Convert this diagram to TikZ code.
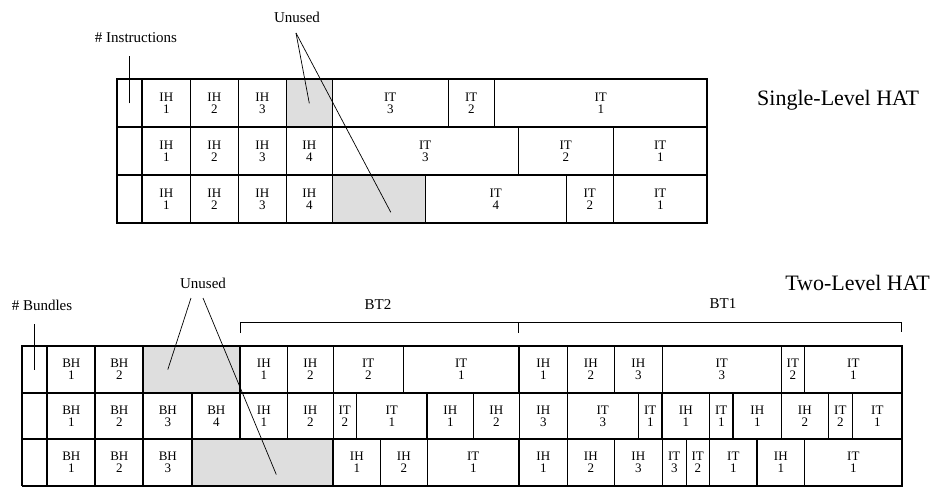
\documentclass[tikz,border=0pt]{standalone}
\usepackage{fontspec}
\setmainfont{Liberation Serif}
\usetikzlibrary{positioning}

\begin{document}
\begin{tikzpicture}[x=1pt, y=-1pt,
  cell/.style={draw=black, line width=0.6pt, anchor=north west, inner sep=0pt, align=center, font=\fontsize{13}{12}\selectfont},
  unused/.style={cell, fill=black!13},
  rowline/.style={line width=1.7pt},
  thin/.style={line width=0.7pt},
  lbl/.style={font=\fontsize{15}{15}\selectfont, inner sep=0pt},
  title/.style={font=\fontsize{22}{22}\selectfont, inner sep=0pt}
]
\useasboundingbox (0,0) rectangle (938,487);

% single-level HAT
\node[cell, minimum width=25pt, minimum height=48pt] (sn1) at (117,79) {};
\node[cell, minimum width=25pt, minimum height=48pt] (sn2) at (117,127) {};
\node[cell, minimum width=25pt, minimum height=48pt] (sn3) at (117,175) {};
\foreach \xa/\xb/\t/\n [count=\i] in {142/190/IH/1, 190/238/IH/2, 238/286/IH/3, 332/448/IT/3, 448/494/IT/2, 494/707/IT/1}{
  \pgfmathsetmacro\w{\xb-\xa}
  \node[cell, minimum width=\w pt, minimum height=48pt] (sa-\i) at (\xa,79) {\t\\\n};
}
\node[unused, minimum width=46pt, minimum height=48pt] (sa-u) at (286,79) {};
\foreach \xa/\xb/\t/\n [count=\i] in {142/190/IH/1, 190/238/IH/2, 238/286/IH/3, 286/332/IH/4, 332/518/IT/3, 518/613/IT/2, 613/707/IT/1}{
  \pgfmathsetmacro\w{\xb-\xa}
  \node[cell, minimum width=\w pt, minimum height=48pt] (sb-\i) at (\xa,127) {\t\\\n};
}
\foreach \xa/\xb/\t/\n [count=\i] in {142/190/IH/1, 190/238/IH/2, 238/286/IH/3, 286/332/IH/4, 425/566/IT/4, 566/613/IT/2, 613/707/IT/1}{
  \pgfmathsetmacro\w{\xb-\xa}
  \node[cell, minimum width=\w pt, minimum height=48pt] (sc-\i) at (\xa,175) {\t\\\n};
}
\node[unused, minimum width=93pt, minimum height=48pt] (sc-u) at (332,175) {};
\draw[rowline] (117,79) rectangle (707,223);
\draw[rowline] (117,127) -- (707,127);
\draw[rowline] (117,175) -- (707,175);
\draw[rowline] (142,79) -- (142,223);

\node[lbl] (instr) at (136,38) {\# Instructions};
\draw[thin] (sn1.center) -- ++(0,-47);
\node[lbl] (unA) at (297,17) {Unused};
\coordinate (unA-tip) at (296,33);
\draw[thin] (unA-tip) -- (sa-u.center);
\draw[thin] (unA-tip) -- ([shift={(12,13)}]sc-u.center);
\node[title, anchor=west] (single) at (757,100) {Single-Level HAT};

% two-level HAT
\node[cell, minimum width=25pt, minimum height=46.5pt] (tn1) at (22,346) {};
\node[cell, minimum width=25pt, minimum height=46.5pt] (tn2) at (22,392.5) {};
\node[cell, minimum width=25pt, minimum height=46.5pt] (tn3) at (22,439) {};
\foreach \xa/\xb/\t/\n [count=\i] in {47/95/BH/1, 95/143/BH/2, 240/287/IH/1, 287/333/IH/2, 333/403/IT/2, 403/519/IT/1, 519/567/IH/1, 567/614/IH/2, 614/662/IH/3, 662/781/IT/3, 781/804/IT/2, 804/902/IT/1}{
  \pgfmathsetmacro\w{\xb-\xa}
  \node[cell, minimum width=\w pt, minimum height=46.5pt] (ta-\i) at (\xa,346) {\t\\\n};
}
\node[unused, minimum width=97pt, minimum height=46.5pt] (ta-u) at (143,346) {};
\foreach \xa/\xb/\t/\n [count=\i] in {47/95/BH/1, 95/143/BH/2, 143/192/BH/3, 192/240/BH/4, 240/287/IH/1, 287/333/IH/2, 333/356/IT/2, 356/427/IT/1, 427/473/IH/1, 473/519/IH/2, 519/567/IH/3, 567/638/IT/3, 638/662/IT/1, 662/709/IH/1, 709/733/IT/1, 733/781/IH/1, 781/828/IH/2, 828/852/IT/2, 852/902/IT/1}{
  \pgfmathsetmacro\w{\xb-\xa}
  \node[cell, minimum width=\w pt, minimum height=46.5pt] (tb-\i) at (\xa,392.5) {\t\\\n};
}
\foreach \xa/\xb/\t/\n [count=\i] in {47/95/BH/1, 95/143/BH/2, 143/192/BH/3, 333/380/IH/1, 380/427/IH/2, 427/519/IT/1, 519/567/IH/1, 567/614/IH/2, 614/662/IH/3, 662/686/IT/3, 686/709/IT/2, 709/757/IT/1, 757/804/IH/1, 804/902/IT/1}{
  \pgfmathsetmacro\w{\xb-\xa}
  \node[cell, minimum width=\w pt, minimum height=46.5pt] (tc-\i) at (\xa,439) {\t\\\n};
}
\node[unused, minimum width=141pt, minimum height=46.5pt] (tc-u) at (192,439) {};
\draw[rowline] (22,346) rectangle (902,485.5);
\draw[rowline] (22,392.5) -- (902,392.5);
\draw[rowline] (22,439) -- (902,439);
\foreach \x in {47,95,143,240,519} \draw[rowline] (\x,346) -- (\x,392.5);
\foreach \x in {47,95,143,192,240,427,662,733} \draw[rowline] (\x,392.5) -- (\x,439);
\foreach \x in {47,95,143,192,333,519,757} \draw[rowline] (\x,439) -- (\x,485.5);

\node[lbl] (bundles) at (42,305) {\# Bundles};
\draw[thin] (tn1.center) -- ++(0,-46);
\node[lbl] (unB) at (203,283) {Unused};
\coordinate (unB-tipa) at (191,298);
\coordinate (unB-tipb) at (203,298);
\draw[thin] (unB-tipa) -- ([xshift=-24pt]ta-u.center);
\draw[thin] (unB-tipb) -- ([shift={(13.5,12)}]tc-u.center);
\node[title] (two) at (857.5,283) {Two-Level HAT};

\draw[thin] (240,333) -- (240,322) -- (901,322) -- (901,332);
\draw[thin] (518,322) -- (518,333);
\node[lbl] (bt2) at (378,305) {BT2};
\node[lbl] (bt1) at (723,304) {BT1};
\end{tikzpicture}
\end{document}
